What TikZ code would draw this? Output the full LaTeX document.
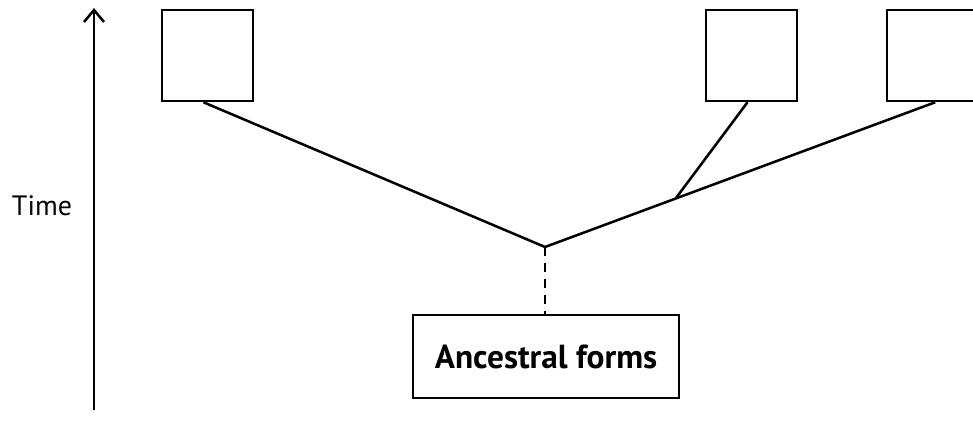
\documentclass[tikz,border=0pt]{standalone}
\usepackage{fontspec}
\setmainfont{PT Sans}
\usetikzlibrary{arrows.meta}
\begin{document}
\begin{tikzpicture}[x=0.75pt,y=-0.75pt,
  boite/.style={draw=black,line width=1.9pt,minimum width=68.25pt,minimum height=68.25pt,inner sep=0pt},
  trait/.style={color=black,line width=1.9pt}]
\useasboundingbox (0,0) rectangle (973,422);
% L'axe du temps
\coordinate (bas) at (94,410);
\coordinate (haut) at (94,8);
\draw[trait,-{Straight Barb[length=9pt,width=15pt,line width=1.9pt]}] (bas) -- (haut);
\node (temps) at (42,206) {\fontsize{21}{24}\selectfont Time};
% Les trois formes actuelles
\node[boite] (f1) at (207.5,55.5) {};
\node[boite] (f2) at (751.5,55.5) {};
\node[boite] (f3) at (932.5,55.5) {};
% Les formes ancestrales
\node[boite,minimum width=199.5pt,minimum height=62.25pt] (anc) at (546,356.5)
  {\fontsize{25}{28}\selectfont\bfseries Ancestral forms};
\coordinate (noeud) at (545,247);
\coordinate (branche) at (676,198);
\draw[trait] ([xshift=-3]f1.south) -- (noeud) -- ([xshift=2]f3.south);
\draw[trait] (branche) -- ([xshift=-3]f2.south);
\draw[trait,dash pattern=on 7pt off 5pt] (noeud) -- (noeud |- anc.north);
\end{tikzpicture}
\end{document}
